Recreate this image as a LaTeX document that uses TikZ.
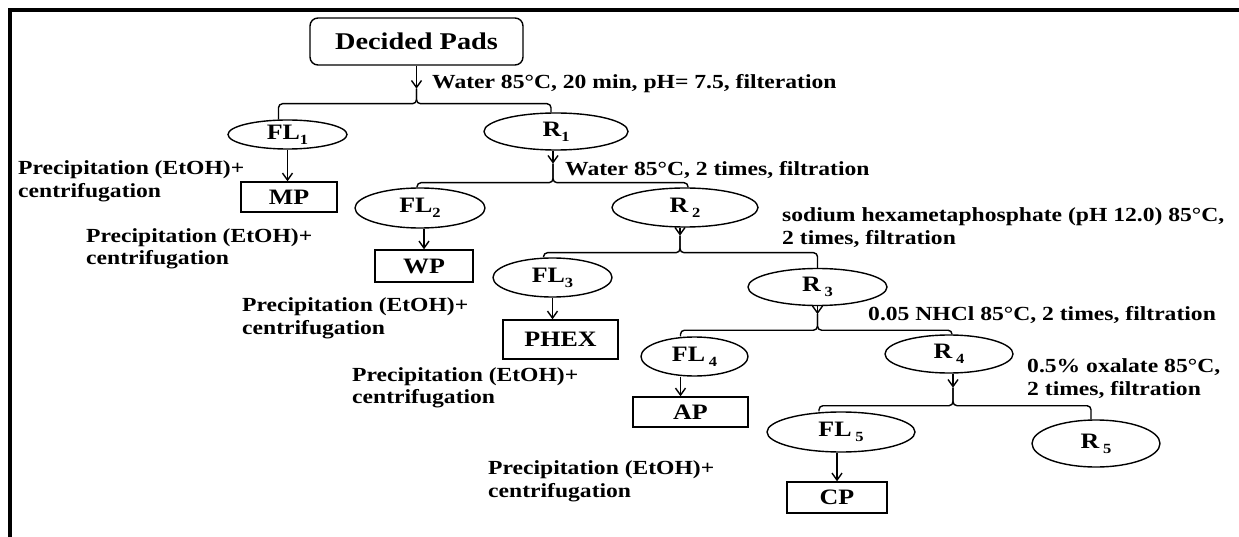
\documentclass[tikz,border=0pt]{standalone}
\usepackage{fontspec}
\setmainfont{Liberation Serif}[FakeStretch=1.18]
\usetikzlibrary{shapes.geometric,arrows.meta,calc}
\newcommand\sbs[1]{\raisebox{-0.22em}{\fontsize{14}{14}\selectfont #1}}
\tikzset{
  lbl/.style={font=\fontsize{20}{22.5}\selectfont\bfseries, inner sep=0pt, anchor=west, align=left},
  ell/.style={draw, ellipse, line width=1.4pt, inner sep=0pt, font=\fontsize{22}{24}\selectfont\bfseries},
  box/.style={draw, rectangle, line width=1.4pt, inner sep=0pt, font=\fontsize{22}{24}\selectfont\bfseries},
  conn/.style={line width=1.4pt, rounded corners=4pt},
  arr/.style={line width=1.4pt, -{Straight Barb[length=7pt,width=10pt]}},
}
\begin{document}
\begin{tikzpicture}[x=1pt,y=-1pt]
\useasboundingbox (0,0) rectangle (1239,537);
\fill[white] (0,0) rectangle (1239,537);
\draw[line width=4pt] (9.5,537) -- (9.5,10.3) -- (1239,10.3);

% nodes
\node[box, rounded corners=8pt, minimum width=213pt, minimum height=47pt, font=\fontsize{24}{26}\selectfont\bfseries] (DP) at (416.5,41.5) {Decided Pads};
\node[ell, minimum width=119pt, minimum height=29pt] (FL1) at (287.5,134.5) {FL\sbs{1}};
\node[ell, minimum width=144pt, minimum height=37pt] (R1) at (556,131.5) {R\sbs{1}};
\node[box, minimum width=96pt, minimum height=30pt] (MP) at (289,197) {MP};
\node[ell, minimum width=130pt, minimum height=40pt] (FL2) at (420,208) {FL\sbs{2}};
\node[ell, minimum width=146pt, minimum height=39pt] (R2) at (685,207.5) {R\,\sbs{2}};
\node[box, minimum width=98pt, minimum height=32pt] (WP) at (424,266) {WP};
\node[ell, minimum width=119pt, minimum height=39pt] (FL3) at (552.5,277.5) {FL\sbs{3}};
\node[ell, minimum width=139pt, minimum height=37pt] (R3) at (817.5,287) {R\,\sbs{3}};
\node[box, minimum width=115pt, minimum height=39pt] (PHEX) at (560.5,339.5) {PHEX};
\node[ell, minimum width=107pt, minimum height=39pt] (FL4) at (694.5,356.5) {FL\,\sbs{4}};
\node[ell, minimum width=128pt, minimum height=38pt] (R4) at (949,354) {R\,\sbs{4}};
\node[box, minimum width=115pt, minimum height=30pt] (AP) at (690.5,412) {AP};
\node[ell, minimum width=148pt, minimum height=40pt] (FL5) at (841,432) {FL\,\sbs{5}};
\node[ell, minimum width=128pt, minimum height=47pt] (R5) at (1096,443.5) {R\,\sbs{5}};
\node[box, minimum width=100pt, minimum height=31pt] (CP) at (837,497.5) {CP};

% split 1
\coordinate (t1) at ($(DP.south)+(0,23)$);
\coordinate (j1) at ($(DP.south)+(0,38)$);
\draw[arr] (DP.south) -- (t1);
\draw[conn] (t1) -- (j1) -| ($(FL1.north)+(-9,0)$);
\draw[conn] (t1) -- (j1) -| ($(R1.north)+(-5,0)$);

% split 2
\coordinate (s2) at ($(R1.south)+(-3,0)$);
\coordinate (t2) at ($(s2)+(0,13)$);
\coordinate (j2) at ($(s2)+(0,32)$);
\draw[arr] (s2) -- (t2);
\draw[conn] (t2) -- (j2) -| ($(FL2.north)+(-3,0)$);
\draw[conn] (t2) -- (j2) -| ($(R2.north)+(3,0)$);

% split 3
\coordinate (s3) at ($(R2.south)+(-5,0)$);
\coordinate (t3) at ($(s3)+(0,8)$);
\coordinate (j3) at ($(s3)+(0,25)$);
\draw[arr] (s3) -- (t3);
\draw[conn] (t3) -- (j3) -| ($(FL3.north)+(-9,0)$);
\draw[conn] (t3) -- (j3) -| (R3.north);

% split 4
\coordinate (s4) at (R3.south);
\coordinate (t4) at ($(s4)+(0,8)$);
\coordinate (j4) at ($(s4)+(0,24)$);
\draw[arr] (s4) -- (t4);
\draw[conn] (t4) -- (j4) -| ($(FL4.north)+(-14,0)$);
\draw[conn] (t4) -- (j4) -| ($(R4.north)+(3,0)$);

% split 5
\coordinate (s5) at ($(R4.south)+(4,0)$);
\coordinate (t5) at ($(s5)+(0,14)$);
\coordinate (j5) at ($(s5)+(0,32)$);
\draw[arr] (s5) -- (t5);
\draw[conn] (t5) -- (j5) -| ($(FL5.north)+(-22,0)$);
\draw[conn] (t5) -- (j5) -| ($(R5.north)+(-5,0)$);

% products
\draw[arr] (FL1.south) -- (FL1.south |- MP.north);
\draw[arr] (FL2.south -| WP.north) -- (WP.north);
\draw[arr] (FL3.south) -- (FL3.south |- PHEX.north);
\coordinate (a4) at ($(FL4.south)+(-14,0)$);
\draw[arr] (a4) -- (a4 |- AP.north);
\draw[arr] (FL5.south -| CP.north) -- (CP.north);

% labels
\node[lbl] (w1) at (432,84) {Water 85°C, 20 min, pH= 7.5, filteration};
\node[lbl] (w2) at (565,170) {Water 85°C, 2 times, filtration};
\node[lbl] (w3) at (782,227.5) {sodium hexametaphosphate (pH 12.0) 85°C,\\2 times, filtration};
\node[lbl] (w4) at (868,315) {0.05 NHCl 85°C, 2 times, filtration};
\node[lbl] (w5) at (1027,378.5) {0.5\% oxalate 85°C,\\2 times, filtration};
\node[lbl] (p1) at (18,181.5) {Precipitation (EtOH)+\\centrifugation};
\node[lbl] (p2) at (86,249) {Precipitation (EtOH)+\\centrifugation};
\node[lbl] (p3) at (242,318.5) {Precipitation (EtOH)+\\centrifugation};
\node[lbl] (p4) at (352,388) {Precipitation (EtOH)+\\centrifugation};
\node[lbl] (p5) at (488,481.5) {Precipitation (EtOH)+\\centrifugation};
\end{tikzpicture}
\end{document}
